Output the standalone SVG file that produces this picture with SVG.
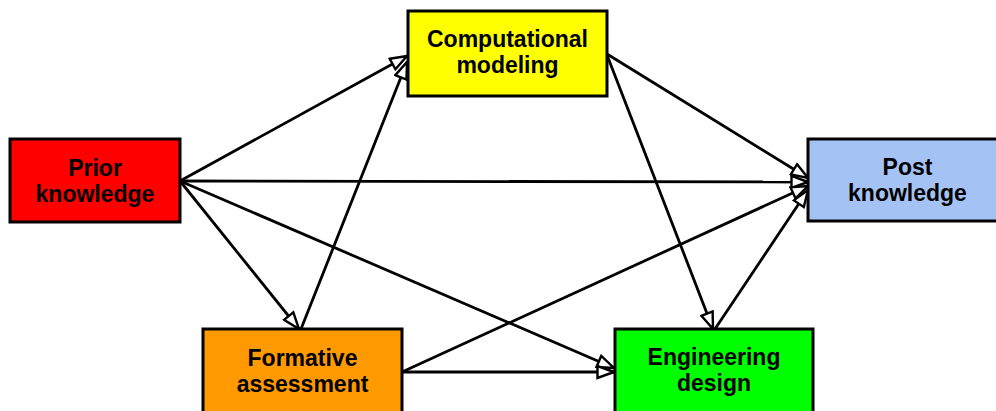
<svg xmlns="http://www.w3.org/2000/svg" width="996" height="411" viewBox="0 0 996 411">
  <style>
    .box { stroke: #000; stroke-width: 3; }
    .lbl { font-family: "Liberation Sans", Arial, sans-serif; font-weight: bold; font-size: 23px; fill: #000; text-anchor: middle; }
    .edge { stroke: #000; stroke-width: 2.8; fill: none; marker-end: url(#head); }
  </style>
  <defs>
    <marker id="head" markerUnits="userSpaceOnUse" viewBox="0 0 19 15" markerWidth="19" markerHeight="15" refX="18" refY="7.5" orient="auto">
      <path d="M1.5,1.5 L18,7.5 L1.5,13.5 Z" fill="#fff" stroke="#000" stroke-width="2.4" stroke-linejoin="miter"/>
    </marker>
  </defs>
  <rect width="996" height="411" fill="#fff"/>

  <g id="connectors">
    <line class="edge" x1="180" y1="181" x2="407" y2="56"/>
    <line class="edge" x1="180" y1="181" x2="808" y2="182"/>
    <line class="edge" x1="180" y1="181" x2="299" y2="329"/>
    <line class="edge" x1="180" y1="181" x2="614" y2="368"/>
    <line class="edge" x1="301" y1="329" x2="407" y2="62"/>
    <line class="edge" x1="402" y1="372" x2="614" y2="372"/>
    <line class="edge" x1="402" y1="372" x2="808" y2="186"/>
    <line class="edge" x1="607" y1="54" x2="808" y2="178"/>
    <line class="edge" x1="607" y1="55" x2="713" y2="329"/>
    <line class="edge" x1="715" y1="329" x2="808" y2="190"/>
  </g>

  <g id="prior">
    <rect class="box" x="10" y="139" width="170" height="83" fill="#ff0000"/>
    <text class="lbl" x="95" y="176">Prior</text>
    <text class="lbl" x="95" y="202">knowledge</text>
  </g>
  <g id="computational">
    <rect class="box" x="408" y="11" width="199" height="85" fill="#ffff00"/>
    <text class="lbl" x="507.5" y="47">Computational</text>
    <text class="lbl" x="507.5" y="73">modeling</text>
  </g>
  <g id="post">
    <rect class="box" x="808" y="139" width="199" height="82" fill="#a4c2f4"/>
    <text class="lbl" x="907.5" y="175">Post</text>
    <text class="lbl" x="907.5" y="201">knowledge</text>
  </g>
  <g id="formative">
    <rect class="box" x="203" y="329" width="199" height="86" fill="#ff9900"/>
    <text class="lbl" x="302.5" y="366">Formative</text>
    <text class="lbl" x="302.5" y="392">assessment</text>
  </g>
  <g id="engineering">
    <rect class="box" x="615" y="329" width="198" height="86" fill="#00ff00"/>
    <text class="lbl" x="714" y="365">Engineering</text>
    <text class="lbl" x="714" y="391">design</text>
  </g>
</svg>
